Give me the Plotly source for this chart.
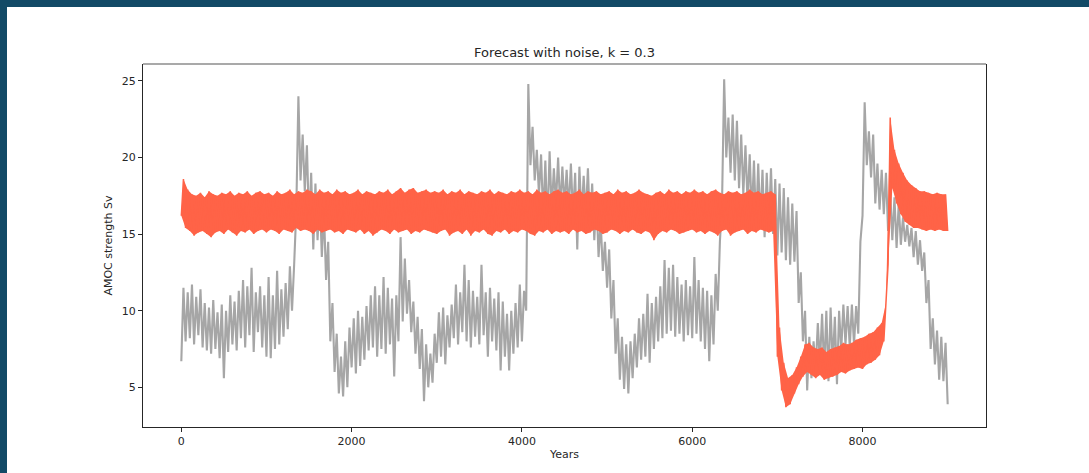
import plotly.graph_objects as go

# Simulated AMOC strength (Sv): observed-style run (grey) and k = 0.3 forecast (red).
# Each series is stored as its noise envelope: troughs on the 50-year grid,
# crests half-way between, so the drawn line zig-zags through the noise band.
years_lo = list(range(0, 9001, 50))
years_hi = list(range(25, 9000, 50))

grey_lo = [
    6.7, 8.0, 8.2, 7.8, 8.4, 7.6, 7.4, 7.2, 7.5, 6.9,
    5.6, 7.3, 7.8, 7.4, 8.2, 7.6, 8.4, 7.3, 8.6, 7.6,
    7.0, 6.9, 7.5, 7.8, 8.3, 8.8, 10.0, 16.5, 18.5, 17.8,
    15.5, 14.0, 14.6, 13.5, 12.0, 8.0, 6.0, 4.6, 4.4, 5.0,
    6.3, 5.9, 6.4, 6.8, 7.4, 7.6, 7.0, 7.5, 7.2, 7.8,
    5.7, 8.0, 9.3, 9.8, 8.6, 7.2, 6.2, 4.1, 5.0, 5.3,
    6.6, 7.0, 6.5, 7.6, 8.2, 7.8, 8.6, 8.0, 7.6, 8.3,
    7.8, 8.4, 7.0, 8.0, 7.4, 6.1, 7.0, 6.1, 7.2, 7.6,
    8.0, 10.0, 19.5, 18.5, 17.6, 16.0, 15.5, 16.5, 17.0, 16.6,
    16.8, 16.5, 16.2, 14.0, 16.0, 16.2, 15.3, 14.6, 13.5, 12.6,
    11.5, 9.5, 7.2, 5.5, 4.9, 4.6, 5.6, 6.3, 6.8, 7.0,
    6.6, 7.5, 8.0, 8.2, 8.5, 8.7, 8.3, 8.5, 8.0, 8.4,
    8.2, 8.5, 8.0, 7.5, 6.7, 7.8, 10.0, 17.0, 20.0, 19.0,
    18.5, 18.0, 17.6, 17.0, 16.2, 15.5, 15.6, 14.8, 15.5, 15.0,
    13.6, 13.8, 13.3, 13.0, 13.2, 10.5, 8.0, 4.8, 5.6, 6.2,
    6.5, 6.0, 5.4, 6.5, 5.2, 7.4, 7.8, 7.6, 7.8, 8.5,
    16.2, 19.5, 18.7, 17.0, 16.6, 16.3, 15.2, 14.6, 14.1, 14.3,
    14.5, 14.2, 13.5, 13.0, 12.6, 10.5, 7.5, 6.5, 5.5, 5.4,
    3.9,
]

grey_hi = [
    11.5, 11.2, 11.7, 10.9, 11.4, 10.5, 10.2, 10.7, 9.9, 10.4,
    10.0, 11.0, 10.6, 11.3, 12.0, 11.6, 12.8, 11.2, 11.6, 11.0,
    12.2, 11.0, 12.6, 11.4, 11.8, 12.9, 13.0, 24.0, 21.5, 20.8,
    19.0, 18.3, 17.8, 16.5, 14.5, 10.5, 8.5, 7.0, 8.0, 8.9,
    9.5, 10.0, 9.6, 10.3, 11.0, 11.6, 11.0, 12.2, 11.5, 10.8,
    11.0, 14.8, 13.4, 12.0, 10.6, 9.6, 8.8, 7.8, 7.2, 8.5,
    9.9, 10.2, 9.7, 10.4, 11.7, 11.2, 13.0, 12.0, 11.3, 10.9,
    13.0, 11.2, 11.5, 10.8, 11.2, 10.6, 9.8, 10.0, 10.5, 11.7,
    11.3, 24.8, 22.0, 20.5, 20.2, 19.8, 20.4, 19.3, 20.0, 19.4,
    19.2, 19.6, 19.0, 19.4, 18.8, 19.3, 18.3, 17.5, 15.8, 14.5,
    14.0, 12.0, 9.5, 8.3, 7.8, 8.0, 8.5, 9.5, 9.8, 11.1,
    10.5, 10.9, 11.6, 13.3, 12.8, 13.0, 12.2, 11.7, 12.0, 11.6,
    13.5, 12.0, 11.5, 11.3, 11.0, 12.4, 14.5, 25.1, 22.6, 22.8,
    22.4, 21.5, 20.8, 20.2, 19.8, 19.6, 19.2, 19.0, 19.3, 18.6,
    18.3, 18.0, 17.4, 17.0, 16.5, 12.5, 10.0, 8.3, 8.0, 9.2,
    9.8, 10.0, 10.2, 9.6, 10.0, 10.4, 10.3, 10.4, 10.3, 14.5,
    23.6, 21.7, 21.5, 19.6, 19.2, 19.0, 17.8, 17.4, 17.0, 16.1,
    15.6, 15.4, 15.2, 14.6, 13.8, 12.0, 9.5, 8.7, 8.3, 7.9,
]

red_lo = [
    16.2, 15.4, 15.2, 14.9, 15.1, 15.2, 15.0, 14.8, 15.1, 15.2,
    15.0, 15.3, 15.1, 14.9, 15.2, 15.1, 15.3, 15.0, 15.2, 15.3,
    15.1, 15.3, 15.2, 15.0, 15.3, 15.2, 15.1, 15.4, 15.2, 15.3,
    15.2, 15.0, 15.3, 15.1, 15.2, 15.3, 15.1, 15.2, 15.0, 15.3,
    15.2, 15.1, 15.3, 15.0, 15.2, 14.9, 15.1, 15.3, 15.2, 15.0,
    15.3, 15.1, 15.2, 15.3, 15.0, 15.2, 15.1, 15.3, 15.2, 15.1,
    15.0, 15.2, 15.3, 14.9, 15.1, 15.2, 15.0, 15.3, 14.9, 15.2,
    15.1, 15.3, 15.0, 14.9, 15.2, 15.1, 15.3, 15.0, 15.2, 15.1,
    15.3, 15.2, 15.0, 14.9, 15.2, 15.1, 15.3, 15.0, 15.2, 15.1,
    15.2, 15.0, 15.3, 15.1, 15.2, 15.0, 15.1, 15.3, 15.2, 15.0,
    15.1, 15.3, 15.2, 15.0, 15.2, 15.1, 15.3, 15.1, 15.0, 15.2,
    15.1, 14.6, 15.0, 15.2, 15.1, 15.3, 15.2, 15.0, 15.1, 15.2,
    15.3, 15.1, 15.2, 15.0, 15.2, 15.1, 14.9, 15.2, 15.3, 14.9,
    15.1, 15.2, 15.3, 15.0, 15.2, 15.1, 15.3, 15.2, 15.1, 15.2,
    7.0, 4.8, 3.7, 3.9, 4.6, 5.2, 5.7, 6.0, 5.8, 5.6,
    5.8, 5.5, 5.6, 5.7, 5.8, 6.0, 5.9, 6.1, 6.2, 6.3,
    6.2, 6.5, 6.6, 6.8, 7.1, 8.0, 13.0, 18.0, 17.0, 16.3,
    15.8, 15.6, 15.4, 15.4, 15.3, 15.2, 15.3, 15.2, 15.3, 15.2,
    15.2,
]

red_hi = [
    18.6, 17.9, 17.6, 17.5, 17.7, 17.4, 17.8, 17.6, 17.5, 17.7,
    17.6, 17.8, 17.5, 17.7, 17.6, 17.8, 17.5, 17.7, 17.8, 17.6,
    17.7, 17.5, 17.8, 17.6, 17.7, 17.9, 17.6, 17.8, 17.7, 17.9,
    17.8, 17.6, 17.9, 17.7, 17.8, 17.6, 17.9, 17.7, 17.8, 17.6,
    17.7, 17.9, 17.6, 17.8, 17.7, 17.6, 17.8, 17.7, 17.9, 17.6,
    17.8, 18.0, 17.7, 17.9, 18.0, 17.7, 17.8, 17.9, 17.7, 17.8,
    17.7, 17.9, 17.6, 17.8, 17.7, 17.9, 17.6, 17.8, 17.7, 17.6,
    17.8, 17.7, 17.9, 17.6, 17.8, 17.7, 17.6, 17.8, 17.7, 17.9,
    17.7, 17.8, 17.6, 17.9, 17.7, 17.8, 17.6, 17.8, 17.9, 17.7,
    17.8, 17.6, 17.7, 17.9, 17.6, 17.8, 17.7, 17.8, 17.6, 17.7,
    17.8, 17.6, 17.9, 17.7, 17.8, 17.6, 17.7, 17.9, 17.7, 17.6,
    17.5, 17.7, 17.8, 17.6, 17.9, 17.7, 17.8, 17.6, 17.8, 17.7,
    17.9, 17.7, 17.8, 17.6, 17.8, 17.9, 17.7, 17.6, 17.8, 17.7,
    17.8, 17.6, 17.7, 17.9, 17.7, 17.8, 17.6, 17.7, 17.8, 17.6,
    8.9, 6.6, 5.6, 5.8, 6.3, 7.0, 7.8, 7.9, 7.6, 7.5,
    7.6, 7.3, 7.5, 7.6, 7.7, 7.9, 7.8, 7.9, 8.1, 8.2,
    8.3, 8.5, 8.6, 8.9, 9.2, 10.5, 22.6, 20.5, 19.6, 19.0,
    18.5, 18.2, 18.0, 17.8, 17.8, 17.7, 17.6, 17.7, 17.6, 17.6,
]

x_ticks = [0, 2000, 4000, 6000, 8000]
y_ticks = [5, 10, 15, 20, 25]

GREY = "#a6a6a6"
RED = "#ff6347"
INK = "#262626"
FONT = "DejaVu Sans"


def zigzag(lo, hi):
    """Interleave troughs and crests into one time-ordered path."""
    xs, ys = [], []
    for i, v in enumerate(lo):
        xs.append(years_lo[i])
        ys.append(v)
        if i < len(hi):
            xs.append(years_hi[i])
            ys.append(hi[i])
    return xs, ys


fig = go.Figure()

# grey run: the noisy path alone, so the gaps between spikes stay open
gx, gy = zigzag(grey_lo, grey_hi)
fig.add_trace(go.Scatter(x=gx, y=gy, mode="lines",
                         line=dict(color=GREY, width=2.1, simplify=False),
                         hoverinfo="skip", showlegend=False))

# red forecast: dense band, drawn as a solid core plus the jagged path
fig.add_trace(go.Scatter(x=years_hi, y=red_hi, mode="lines",
                         line=dict(color=RED, width=0),
                         hoverinfo="skip", showlegend=False))
fig.add_trace(go.Scatter(x=years_lo, y=red_lo, mode="lines", fill="tonexty",
                         fillcolor=RED, line=dict(color=RED, width=0),
                         hoverinfo="skip", showlegend=False))
rx, ry = zigzag(red_lo, red_hi)
fig.add_trace(go.Scatter(x=rx, y=ry, mode="lines",
                         line=dict(color=RED, width=1.5, simplify=False),
                         hoverinfo="skip", showlegend=False))

# page frame (dark band on top and left edge)
PW, PH, ML, MT, MB = 843, 363, 143, 64, 46
W, H = 1089, 473
def px_x(p):
    return (p - ML) / PW
def px_y(p):
    return (H - MB - p) / PH

frame = "#124a66"
shapes = [
    dict(type="rect", xref="paper", yref="paper", x0=px_x(0), x1=px_x(W),
         y0=px_y(7), y1=px_y(0), fillcolor=frame, line=dict(width=0)),
    dict(type="rect", xref="paper", yref="paper", x0=px_x(0), x1=px_x(7),
         y0=px_y(H), y1=px_y(0), fillcolor=frame, line=dict(width=0)),
    dict(type="line", xref="paper", yref="paper", x0=0, x1=1, y0=1, y1=1,
         line=dict(color="#8c8c8c", width=1.3)),
]

fig.update_layout(
    width=W, height=H,
    margin=dict(l=ML, r=W - ML - PW, t=MT, b=MB, pad=0),
    paper_bgcolor="white", plot_bgcolor="white",
    font=dict(family=FONT, size=11, color=INK),
    title=dict(text="Forecast with noise, k = 0.3", x=0.5, xref="paper",
               xanchor="center", y=1 - 52 / H, yref="container", yanchor="middle",
               font=dict(family=FONT, size=13, color=INK)),
    shapes=shapes,
    showlegend=False,
)
fig.update_xaxes(range=[-450, 9450], tickvals=x_ticks, ticks="outside", ticklen=4,
                 tickwidth=1, tickcolor=INK, showline=True, linecolor=INK, linewidth=1,
                 mirror=False, showgrid=False, zeroline=False,
                 tickfont=dict(size=11),
                 title=dict(text="Years", standoff=3, font=dict(size=11)))
fig.update_yaxes(range=[2.41, 26.1], tickvals=y_ticks, ticks="outside", ticklen=4,
                 tickwidth=1, tickcolor=INK, showline=True, linecolor=INK, linewidth=1,
                 mirror=True, showgrid=False, zeroline=False,
                 tickfont=dict(size=11),
                 title=dict(text="AMOC strength Sv", standoff=6, font=dict(size=11)))

fig.write_html("out.html")
